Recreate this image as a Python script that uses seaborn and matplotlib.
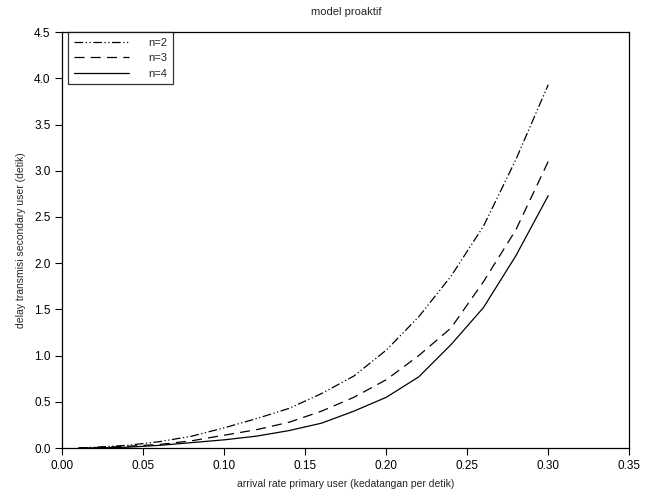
import pandas as pd
import matplotlib
matplotlib.use('Agg')
import matplotlib.pyplot as plt
import seaborn as sns

# === DATA ===
ARRIVAL_RATE = [0.01, 0.02, 0.04, 0.06, 0.08, 0.10, 0.12, 0.14,
                0.16, 0.18, 0.20, 0.22, 0.24, 0.26, 0.28, 0.30]
DELAY_N2 = [0.0, 0.01, 0.03, 0.07, 0.13, 0.22, 0.32, 0.43,
            0.59, 0.78, 1.06, 1.42, 1.86, 2.40, 3.12, 3.93]
DELAY_N3 = [0.0, 0.005, 0.02, 0.04, 0.08, 0.14, 0.20, 0.28,
            0.40, 0.55, 0.74, 1.00, 1.30, 1.80, 2.36, 3.10]
DELAY_N4 = [0.0, 0.003, 0.01, 0.03, 0.06, 0.09, 0.13, 0.19,
            0.27, 0.40, 0.55, 0.77, 1.12, 1.52, 2.08, 2.73]
LABELS = ['n=2', 'n=3', 'n=4']
X_TICKS = [0.00, 0.05, 0.10, 0.15, 0.20, 0.25, 0.30, 0.35]
Y_TICKS = [0.0, 0.5, 1.0, 1.5, 2.0, 2.5, 3.0, 3.5, 4.0, 4.5]
# === END DATA ===

STYLES = [(0, (7, 2, 1, 2, 1, 2)), (0, (8, 5)), '-']

sns.set_style('white')
plt.rcParams['font.family'] = ['Liberation Sans', 'DejaVu Sans']

fig = plt.figure(figsize=(6.5, 4.93), dpi=100)
ax = fig.add_axes([0.096, 0.091, 0.872, 0.844])

for ys, lab, ls in zip([DELAY_N2, DELAY_N3, DELAY_N4], LABELS, STYLES):
    sns.lineplot(x=ARRIVAL_RATE, y=ys, ax=ax, color='black',
                 linewidth=0.9, linestyle=ls, label=lab)

ax.set_xlim(0, 0.35)
ax.set_ylim(0, 4.5)
ax.set_xticks(X_TICKS)
ax.set_yticks(Y_TICKS)
ax.set_xticklabels([f'{v:.2f}' for v in X_TICKS])
ax.set_yticklabels([f'{v:.1f}' for v in Y_TICKS])
ax.tick_params(axis='both', direction='out', length=5, width=0.8,
               labelsize=8.5, colors='black', bottom=True, left=True)
for sp in ax.spines.values():
    sp.set_color('black')
    sp.set_linewidth(0.9)

ax.set_title('model proaktif', fontsize=8, pad=12)
ax.set_xlabel('arrival rate primary user (kedatangan per detik)', fontsize=7.5, labelpad=5)
ax.set_ylabel('delay transmisi secondary user (detik)', fontsize=7.5, labelpad=6)

leg = ax.legend(loc='upper left', bbox_to_anchor=(0.01, 1.0), fontsize=8,
                frameon=True, fancybox=False, handlelength=5.0,
                borderaxespad=0.0, borderpad=0.5, labelspacing=0.5,
                handletextpad=1.7)
leg.get_frame().set_edgecolor('black')
leg.get_frame().set_linewidth(0.9)

plt.savefig('out.png', dpi=100)
plt.close()
